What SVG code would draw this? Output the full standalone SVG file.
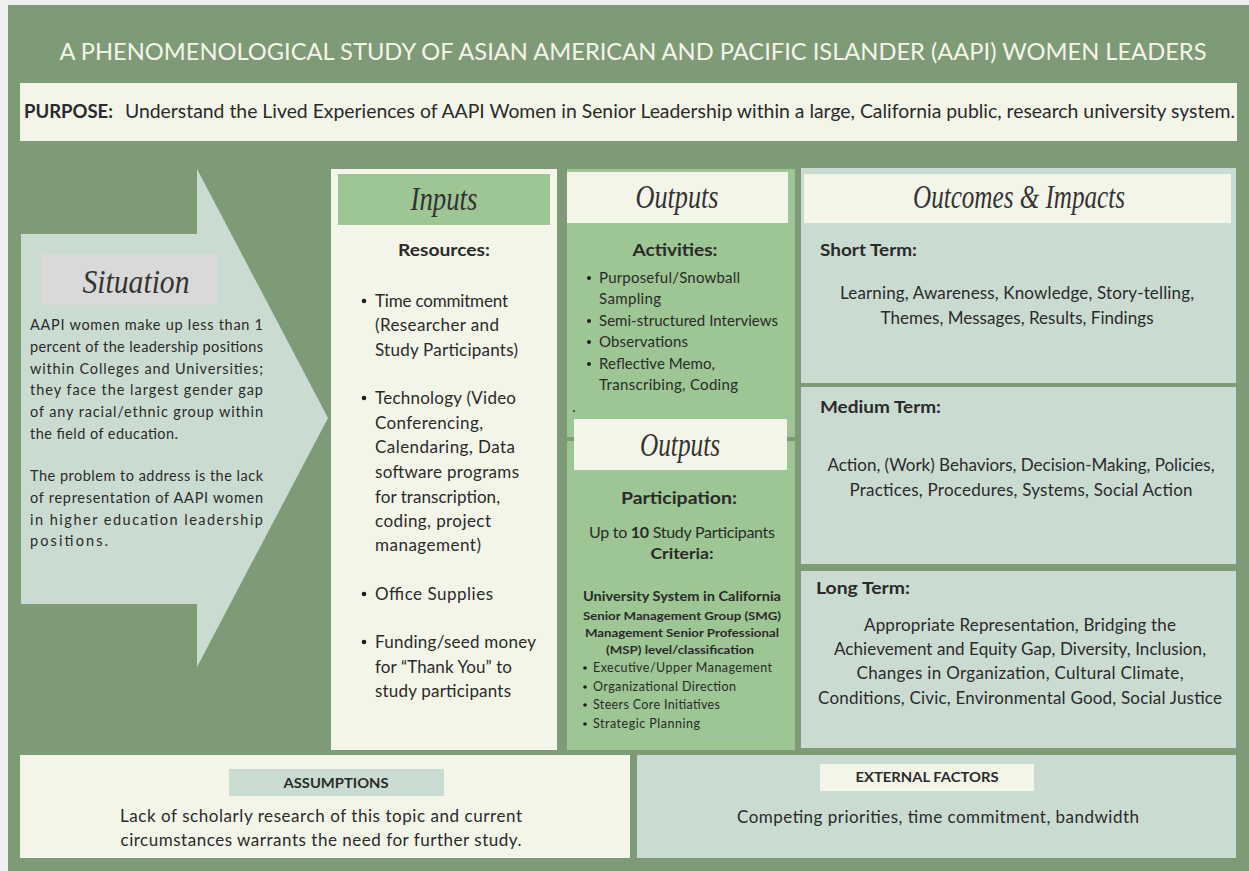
<svg xmlns="http://www.w3.org/2000/svg" width="1249" height="871" viewBox="0 0 1249 871">
  <style>
    .sans { font-family: Lato, "Open Sans", "Liberation Sans", sans-serif; fill: #2a2a2a; }
    .body { font-size: 17px; }
    .small { font-size: 15px; }
    .tiny { font-size: 12.5px; }
    .bold { font-weight: 700; }
    .script { font-family: "Liberation Serif", "DejaVu Serif", serif; font-style: italic; fill: #333333; font-size: 33px; }
    .mid { text-anchor: middle; }
    .cream { fill: #f4f5e9; }
    .sage { fill: #cadcd1; }
    .leaf { fill: #9ec594; }
    .dot { fill: #1e1e1e; }
  </style>

  <!-- page backdrop and green board -->
  <rect x="0" y="0" width="1249" height="871" fill="#eef0f0"/>
  <rect x="8" y="5" width="1241" height="866" fill="#7e9a77"/>

  <g id="title">
    <text x="633" y="60" class="mid" font-family="Lato, 'Open Sans', sans-serif" font-size="24" fill="#f4f5e9" textLength="1147" lengthAdjust="spacingAndGlyphs">A PHENOMENOLOGICAL STUDY OF ASIAN AMERICAN AND PACIFIC ISLANDER (AAPI) WOMEN LEADERS</text>
  </g>

  <g id="purpose">
    <rect x="20" y="83" width="1217" height="58" class="cream"/>
    <text x="24" y="118" class="sans bold" font-size="19" textLength="89" lengthAdjust="spacingAndGlyphs">PURPOSE:</text>
    <text x="125" y="118" class="sans" font-size="19.5" textLength="1110" lengthAdjust="spacingAndGlyphs">Understand the Lived Experiences of AAPI Women in Senior Leadership within a large, California public, research university system.</text>
  </g>

  <g id="connectors"></g>

  <g id="situation">
    <polygon points="21,234 197,234 197,169 328,418 197,667 197,604 21,604" class="sage"/>
    <rect x="41" y="254" width="176" height="51" fill="#d9d9d9"/>
    <text x="136" y="293" class="script mid" textLength="107" lengthAdjust="spacingAndGlyphs">Situation</text>
    <g class="sans" font-size="14.5">
      <text x="30" y="330" textLength="233" lengthAdjust="spacing">AAPI women make up less than 1</text>
      <text x="30" y="352" textLength="233" lengthAdjust="spacing">percent of the leadership positions</text>
      <text x="30" y="374" textLength="233" lengthAdjust="spacing">within Colleges and Universities;</text>
      <text x="30" y="395" textLength="233" lengthAdjust="spacing">they face the largest gender gap</text>
      <text x="30" y="417" textLength="233" lengthAdjust="spacing">of any racial/ethnic group within</text>
      <text x="30" y="439" textLength="148" lengthAdjust="spacing">the field of education.</text>
      <text x="30" y="481" textLength="233" lengthAdjust="spacing">The problem to address is the lack</text>
      <text x="30" y="503" textLength="233" lengthAdjust="spacing">of representation of AAPI women</text>
      <text x="30" y="525" textLength="233" lengthAdjust="spacing">in higher education leadership</text>
      <text x="30" y="546" textLength="78" lengthAdjust="spacing">positions.</text>
    </g>
  </g>

  <g id="inputs">
    <rect x="331" y="169" width="226" height="581" class="cream"/>
    <rect x="338" y="174" width="212" height="51" class="leaf"/>
    <text x="444" y="210" class="script mid" textLength="67" lengthAdjust="spacingAndGlyphs">Inputs</text>
    <text x="444" y="256" class="sans body bold mid" textLength="92" lengthAdjust="spacingAndGlyphs">Resources:</text>
    <circle cx="364" cy="301" r="2.3" class="dot"/>
    <circle cx="364" cy="398" r="2.3" class="dot"/>
    <circle cx="364" cy="594" r="2.3" class="dot"/>
    <circle cx="364" cy="642" r="2.3" class="dot"/>
    <g class="sans body">
      <text x="375" y="307" textLength="133" lengthAdjust="spacing">Time commitment</text>
      <text x="375" y="331" textLength="124" lengthAdjust="spacing">(Researcher and</text>
      <text x="375" y="356" textLength="143" lengthAdjust="spacing">Study Participants)</text>
      <text x="375" y="404" textLength="141" lengthAdjust="spacing">Technology (Video</text>
      <text x="375" y="429" textLength="108" lengthAdjust="spacing">Conferencing,</text>
      <text x="375" y="453" textLength="140" lengthAdjust="spacing">Calendaring, Data</text>
      <text x="375" y="478" textLength="144" lengthAdjust="spacing">software programs</text>
      <text x="375" y="503" textLength="125" lengthAdjust="spacing">for transcription,</text>
      <text x="375" y="527" textLength="116" lengthAdjust="spacing">coding, project</text>
      <text x="375" y="551" textLength="106" lengthAdjust="spacing">management)</text>
      <text x="375" y="600" textLength="118" lengthAdjust="spacing">Office Supplies</text>
      <text x="375" y="648" textLength="161" lengthAdjust="spacing">Funding/seed money</text>
      <text x="375" y="673" textLength="137" lengthAdjust="spacing">for “Thank You” to</text>
      <text x="375" y="697" textLength="136" lengthAdjust="spacing">study participants</text>
    </g>
  </g>

  <g id="outputs-activities">
    <rect x="567" y="169" width="228" height="268" class="leaf"/>
    <rect x="567" y="172" width="221" height="51" class="cream"/>
    <text x="677" y="208" class="script mid" textLength="83" lengthAdjust="spacingAndGlyphs">Outputs</text>
    <text x="675" y="256" class="sans body bold mid" textLength="85" lengthAdjust="spacingAndGlyphs">Activities:</text>
    <circle cx="589" cy="278" r="2" class="dot"/>
    <circle cx="589" cy="321" r="2" class="dot"/>
    <circle cx="589" cy="342" r="2" class="dot"/>
    <circle cx="589" cy="364" r="2" class="dot"/>
    <g class="sans small">
      <text x="599" y="283" textLength="141" lengthAdjust="spacing">Purposeful/Snowball</text>
      <text x="599" y="304" textLength="62" lengthAdjust="spacing">Sampling</text>
      <text x="599" y="326" textLength="179" lengthAdjust="spacing">Semi-structured Interviews</text>
      <text x="599" y="347" textLength="89" lengthAdjust="spacing">Observations</text>
      <text x="599" y="369" textLength="116" lengthAdjust="spacing">Reflective Memo,</text>
      <text x="599" y="390" textLength="139" lengthAdjust="spacing">Transcribing, Coding</text>
    </g>
    <circle cx="574" cy="411" r="0.9" class="dot"/>
  </g>

  <g id="outputs-participation">
    <rect x="567" y="441" width="228" height="309" class="leaf"/>
    <rect x="574" y="419" width="213" height="51" class="cream"/>
    <text x="680" y="456" class="script mid" textLength="80" lengthAdjust="spacingAndGlyphs">Outputs</text>
    <text x="679" y="504" class="sans body bold mid" textLength="116" lengthAdjust="spacingAndGlyphs">Participation:</text>
    <text x="682" y="538" class="sans mid" font-size="16" textLength="186" lengthAdjust="spacing">Up to <tspan font-weight="700">10</tspan> Study Participants</text>
    <text x="682" y="559" class="sans bold mid" font-size="16" textLength="63" lengthAdjust="spacingAndGlyphs">Criteria:</text>
    <text x="682" y="601" class="sans bold mid" font-size="13" textLength="198" lengthAdjust="spacingAndGlyphs">University System in California</text>
    <text x="682" y="620" class="sans bold mid" font-size="11.5" textLength="198" lengthAdjust="spacingAndGlyphs">Senior Management Group (SMG)</text>
    <text x="682" y="637" class="sans bold mid" font-size="11.5" textLength="194" lengthAdjust="spacingAndGlyphs">Management Senior Professional</text>
    <text x="680" y="654" class="sans bold mid" font-size="11.5" textLength="148" lengthAdjust="spacingAndGlyphs">(MSP) level/classification</text>
    <circle cx="585" cy="668" r="1.8" class="dot"/>
    <circle cx="585" cy="687" r="1.8" class="dot"/>
    <circle cx="585" cy="705" r="1.8" class="dot"/>
    <circle cx="585" cy="724" r="1.8" class="dot"/>
    <g class="sans tiny">
      <text x="593" y="672" textLength="179" lengthAdjust="spacing">Executive/Upper Management</text>
      <text x="593" y="691" textLength="143" lengthAdjust="spacing">Organizational Direction</text>
      <text x="593" y="709" textLength="127" lengthAdjust="spacing">Steers Core Initiatives</text>
      <text x="593" y="728" textLength="107" lengthAdjust="spacing">Strategic Planning</text>
    </g>
  </g>

  <g id="outcomes-short">
    <rect x="801" y="168" width="435" height="215" class="sage"/>
    <rect x="804" y="174" width="427" height="49" class="cream"/>
    <text x="1019" y="208" class="script mid" textLength="212" lengthAdjust="spacingAndGlyphs">Outcomes &amp; Impacts</text>
    <text x="820" y="256" class="sans body bold" textLength="97" lengthAdjust="spacingAndGlyphs">Short Term:</text>
    <text x="1017" y="299" class="sans body mid" textLength="354" lengthAdjust="spacing">Learning, Awareness, Knowledge, Story-telling,</text>
    <text x="1017" y="324" class="sans body mid" textLength="273" lengthAdjust="spacing">Themes, Messages, Results, Findings</text>
  </g>

  <g id="outcomes-medium">
    <rect x="801" y="387" width="435" height="177" class="sage"/>
    <text x="820" y="413" class="sans body bold" textLength="121" lengthAdjust="spacingAndGlyphs">Medium Term:</text>
    <text x="1021" y="471" class="sans body mid" textLength="387" lengthAdjust="spacing">Action, (Work) Behaviors, Decision-Making, Policies,</text>
    <text x="1021" y="496" class="sans body mid" textLength="343" lengthAdjust="spacing">Practices, Procedures, Systems, Social Action</text>
  </g>

  <g id="outcomes-long">
    <rect x="801" y="571" width="435" height="177" class="sage"/>
    <text x="816" y="594" class="sans body bold" textLength="94" lengthAdjust="spacingAndGlyphs">Long Term:</text>
    <text x="1020" y="631" class="sans body mid" textLength="312" lengthAdjust="spacing">Appropriate Representation, Bridging the</text>
    <text x="1020" y="655" class="sans body mid" textLength="372" lengthAdjust="spacing">Achievement and Equity Gap, Diversity, Inclusion,</text>
    <text x="1020" y="679" class="sans body mid" textLength="327" lengthAdjust="spacing">Changes in Organization, Cultural Climate,</text>
    <text x="1020" y="704" class="sans body mid" textLength="404" lengthAdjust="spacing">Conditions, Civic, Environmental Good, Social Justice</text>
  </g>

  <g id="assumptions">
    <rect x="20" y="755" width="610" height="103" class="cream"/>
    <rect x="229" y="769" width="215" height="27" class="sage"/>
    <text x="336" y="788" class="sans bold mid" font-size="13" textLength="105" lengthAdjust="spacingAndGlyphs">ASSUMPTIONS</text>
    <text x="321" y="822" class="sans body mid" textLength="402" lengthAdjust="spacing">Lack of scholarly research of this topic and current</text>
    <text x="321" y="846" class="sans body mid" textLength="401" lengthAdjust="spacing">circumstances warrants the need for further study.</text>
  </g>

  <g id="external-factors">
    <rect x="637" y="755" width="599" height="103" class="sage"/>
    <rect x="820" y="764" width="214" height="27" class="cream"/>
    <text x="927" y="782" class="sans bold mid" font-size="13" textLength="143" lengthAdjust="spacingAndGlyphs">EXTERNAL FACTORS</text>
    <text x="938" y="823" class="sans body mid" textLength="402" lengthAdjust="spacing">Competing priorities, time commitment, bandwidth</text>
  </g>
</svg>
